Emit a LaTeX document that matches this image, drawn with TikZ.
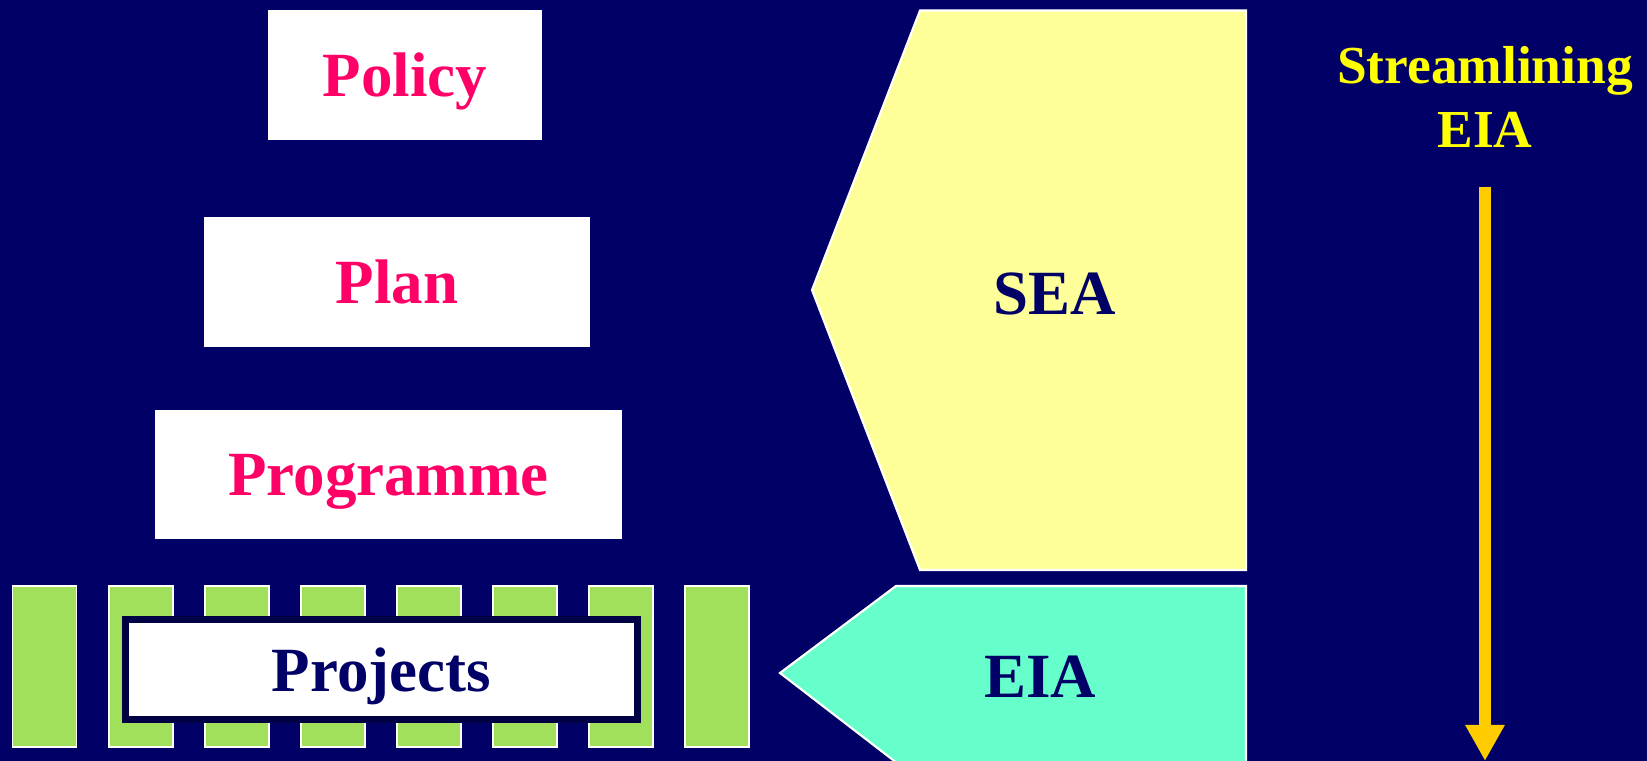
\documentclass[tikz,border=0pt]{standalone}
\usepackage{fontspec}
\setmainfont{Liberation Serif}
\usepackage{tikz}
\usetikzlibrary{arrows.meta}
\usepackage{xcolor}

\definecolor{navybg}{HTML}{000066}
\definecolor{navyline}{HTML}{000044}
\definecolor{levelpink}{HTML}{FF0066}
\definecolor{seayellow}{HTML}{FFFF99}
\definecolor{eiaaqua}{HTML}{66FFCC}
\definecolor{projgreen}{HTML}{A0E05A}
\definecolor{arrowgold}{HTML}{FFCC00}
\definecolor{textyellow}{HTML}{FFFF00}

\begin{document}
\begin{tikzpicture}[x=0.01cm, y=-0.01cm,
    levelbox/.style={fill=white, draw=none, inner sep=0pt, text depth=0pt, font=\fontsize{17.9}{20}\selectfont\bfseries, text=levelpink},
    projbar/.style={fill=projgreen, draw=white, line width=0.5pt},
    bigtext/.style={font=\fontsize{17.9}{20}\selectfont\bfseries, text=navybg}]

    % Background
    \fill[navybg] (0,0) rectangle (1647,761);
    \useasboundingbox (0,0) rectangle (1647,761);

    % Levels: policy, plan, programme
    \node[levelbox, minimum width=2.74cm, minimum height=1.30cm] (policy) at (405,75) {Policy};
    \node[levelbox, minimum width=3.86cm, minimum height=1.30cm] (plan) at (397,282) {Plan};
    \node[levelbox, minimum width=4.67cm, minimum height=1.29cm] (programme) at (388.5,474.5) {Programme};

    % Project bars
    \foreach \i in {0,...,7}
        \filldraw[projbar] (12.6+96.1*\i,586) rectangle ++(64,161);

    % Projects box
    \node[fill=white, draw=navyline, line width=0.07cm, minimum width=5.12cm, minimum height=1.00cm,
        text depth=0pt, font=\fontsize{17.9}{20}\selectfont\bfseries, text=navybg] (projects) at (381.5,669.5) {Projects};

    % SEA arrow shape
    \filldraw[fill=seayellow, draw=white, line width=0.6pt]
        (920,10.5) -- (1246,10.5) -- (1246,570) -- (920,570) -- (812,290) -- cycle;
    \node[bigtext] (sea) at (1055,294) {SEA};

    % EIA arrow shape
    \begin{scope}
        \clip (0,0) rectangle (1647,761);
        \filldraw[fill=eiaaqua, draw=white, line width=0.6pt]
            (896,586) -- (1246,586) -- (1246,770) -- (906,770) -- (780,673) -- cycle;
    \end{scope}
    \node[bigtext] (eia) at (1040,677) {EIA};

    % Streamlining arrow
    \node[align=center, text=textyellow, font=\fontsize{15.2}{18.2}\selectfont\bfseries] (stream) at (1485,97) {Streamlining\\EIA};
    \coordinate (arrtop) at (1485,187);
    \coordinate (arrtip) at (1485,761);
    \draw[arrowgold, line width=0.12cm, -{Triangle[width=0.37cm, length=0.36cm]}] (arrtop) -- (arrtip);
\end{tikzpicture}
\end{document}
